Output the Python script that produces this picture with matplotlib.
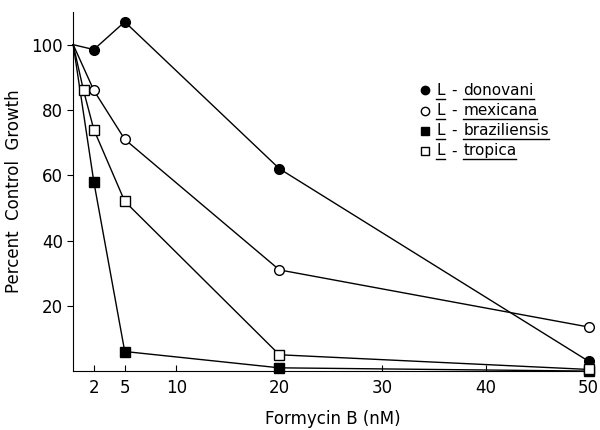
import matplotlib
matplotlib.use("Agg")
import matplotlib.pyplot as plt
from matplotlib.lines import Line2D

# concentrations (nM) and percent control growth
x_donovani = [0, 2, 5, 20, 50]
y_donovani = [100, 98.5, 107, 62, 3]

x_mexicana = [0, 2, 5, 20, 50]
y_mexicana = [100, 86, 71, 31, 13.5]

x_braziliensis = [0, 2, 5, 20, 50]
y_braziliensis = [100, 58, 6, 1, 0]

x_tropica = [0, 1, 2, 5, 20, 50]
y_tropica = [100, 86, 74, 52, 5, 0.5]

x_ticks = [2, 5, 10, 20, 30, 40, 50]
y_ticks = [20, 40, 60, 80, 100]

labels = ["donovani", "mexicana", "braziliensis", "tropica"]

plt.rcParams["font.family"] = ["DejaVu Sans"]

fig = plt.figure(figsize=(6, 4.3), dpi=100)
ax = fig.add_axes([0.122, 0.137, 0.866, 0.835])

series = [
    (x_donovani, y_donovani, "o", "black"),
    (x_mexicana, y_mexicana, "o", "white"),
    (x_braziliensis, y_braziliensis, "s", "black"),
    (x_tropica, y_tropica, "s", "white"),
]
for xs, ys, m, fc in series:
    ax.plot(xs[1:], ys[1:], color="black", lw=1.0, marker=m, ms=7,
            mfc=fc, mec="black", mew=1.0, clip_on=False, zorder=3)
    ax.plot(xs[:2], ys[:2], color="black", lw=1.0, clip_on=False, zorder=2)

ax.set_xlim(0, 50.4)
ax.set_ylim(0, 110)
ax.set_xticks(x_ticks)
ax.set_yticks(y_ticks)
ax.tick_params(axis="x", direction="in", length=4, labelsize=12, pad=6)
ax.tick_params(axis="y", direction="out", length=4, labelsize=12)
for s in ["top", "right"]:
    ax.spines[s].set_visible(False)
ax.set_xlabel("Formycin B (nM)", fontsize=12, labelpad=9)
ax.set_ylabel("Percent  Control  Growth", fontsize=12, labelpad=6)

# hand-made key with underlined names
markers = [("o", "black"), ("o", "white"), ("s", "black"), ("s", "white")]
fig.canvas.draw()
renderer = fig.canvas.get_renderer()
for i, (lab, (m, fc)) in enumerate(zip(labels, markers)):
    yy = 0.79 - i * 0.047
    fig.add_artist(Line2D([0.708], [yy], marker=m, ms=6, mfc=fc, mec="black",
                          mew=1.0, transform=fig.transFigure))
    t1 = fig.text(0.727, yy, "L", fontsize=11, va="center")
    t2 = fig.text(0.752, yy, "-", fontsize=11, va="center")
    t3 = fig.text(0.772, yy, lab, fontsize=11, va="center")
    for t in (t1, t3):
        bb = t.get_window_extent(renderer).transformed(fig.transFigure.inverted())
        fig.add_artist(Line2D([bb.x0, bb.x1], [bb.y0 - 0.002, bb.y0 - 0.002],
                              color="black", lw=1.0, transform=fig.transFigure))

fig.savefig("out.png", dpi=100)
